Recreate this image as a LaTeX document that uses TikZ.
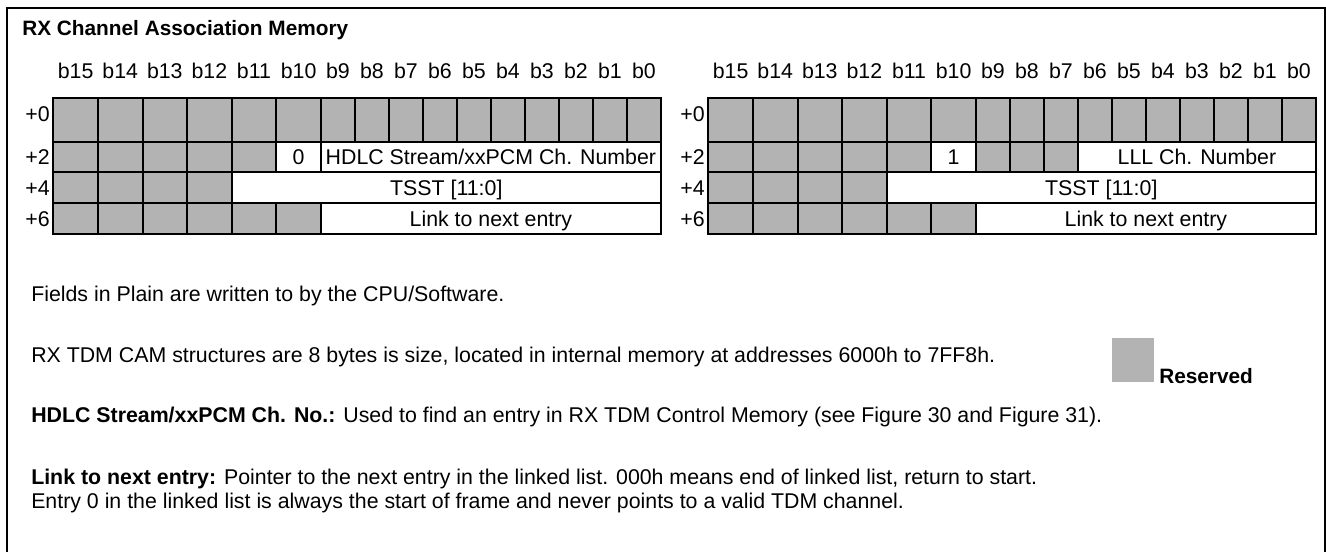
\documentclass[tikz,border=0pt]{standalone}
\usepackage{fontspec}
\setmainfont{Liberation Sans}
\usetikzlibrary{calc}
\definecolor{resgray}{RGB}{179,179,179}
\newcommand\fsz{\fontsize{16pt}{19.2pt}\selectfont}
\newcommand\fst{\fontsize{15.6pt}{18.7pt}\selectfont}
\begin{document}
\begin{tikzpicture}[x=0.75pt,y=-0.75pt,
  cell/.style={draw=black,line width=1.5pt},
  res/.style={cell,fill=resgray},
  txt/.style={inner sep=0pt,font=\fsz,anchor=base},
  lbl/.style={inner sep=0pt,font=\fsz,anchor=base west},
  rowlbl/.style={inner sep=0pt,font=\fsz,anchor=base east},
  bold/.style={inner sep=0pt,font=\fst\bfseries,anchor=base west}]
\useasboundingbox (0,0) rectangle (1326,551);
\fill[white] (0,0) rectangle (1326,551);
\draw[line width=1.5pt] (7,570) -- (7,8) -- (1325,8) -- (1325,570);
\node[bold] (title) at (22,35) {RX Channel Association Memory};
% column boundaries
\foreach \t/\dx in {L/0,R/655}{
  \foreach \i/\x in {0/53.3,1/97.9,2/142.5,3/187.1,4/231.7,5/276.3,6/320.9,7/354.9,8/388.9,9/422.9,10/456.9,11/490.9,12/524.9,13/558.9,14/592.9,15/626.9,16/660.9}{
    \coordinate (\t c\i) at (\x+\dx,0);
  }
}
\foreach \j/\y in {0/98.3,1/141.5,2/172,3/203.3,4/234.3} \coordinate (r\j) at (0,\y);
% header labels
\foreach \t in {L,R}{
  \foreach \i in {0,...,15}{
    \pgfmathtruncatemacro\ii{\i+1}
    \pgfmathtruncatemacro\bb{15-\i}
    \node[txt] (\t h\i) at ($(\t c\i)!.5!(\t c\ii)+(0,78)$) {b\bb};
  }
}
% reserved cells
\foreach \t/\j/\a/\b in {L/0/0/15, L/1/0/4, L/2/0/3, L/3/0/5, R/0/0/15, R/1/0/4, R/1/6/8, R/2/0/3, R/3/0/5}{
  \foreach \i in {\a,...,\b}{
    \pgfmathtruncatemacro\ii{\i+1}
    \pgfmathtruncatemacro\jj{\j+1}
    \draw[res] (\t c\i |- r\j) rectangle (\t c\ii |- r\jj);
  }
}
% left fields
\draw[cell] (Lc5|-r1) rectangle (Lc6|-r2);
\node[txt] (lzero) at ($(Lc5)!.5!(Lc6)+(0,164)$) {0};
\draw[cell] (Lc6|-r1) rectangle (Lc16|-r2);
\node[txt] (lhdlc) at ($(Lc6)!.5!(Lc16)+(0,164)$) {HDLC Stream/xxPCM Ch. Number};
\draw[cell] (Lc4|-r2) rectangle (Lc16|-r3);
\node[txt] (ltsst) at ($(Lc4)!.5!(Lc16)+(0,195)$) {TSST [11:0]};
\draw[cell] (Lc6|-r3) rectangle (Lc16|-r4);
\node[txt] (llink) at ($(Lc6)!.5!(Lc16)+(0,226)$) {Link to next entry};
% right fields
\draw[cell] (Rc5|-r1) rectangle (Rc6|-r2);
\node[txt] (rone) at ($(Rc5)!.5!(Rc6)+(0,164)$) {1};
\draw[cell] (Rc9|-r1) rectangle (Rc16|-r2);
\node[txt] (rlll) at ($(Rc9)!.5!(Rc16)+(0,164)$) {LLL Ch. Number};
\draw[cell] (Rc4|-r2) rectangle (Rc16|-r3);
\node[txt] (rtsst) at ($(Rc4)!.5!(Rc16)+(0,195)$) {TSST [11:0]};
\draw[cell] (Rc6|-r3) rectangle (Rc16|-r4);
\node[txt] (rlink) at ($(Rc6)!.5!(Rc16)+(0,226)$) {Link to next entry};
% row labels
\foreach \t/\x in {L/50,R/705}{
  \foreach \j/\y/\s in {0/121/+0,1/164/+2,2/195/+4,3/226/+6}{
    \node[rowlbl] (\t r\j) at (\x,\y) {\s};
  }
}
% notes
\node[lbl] (note1) at (31,301) {Fields in Plain are written to by the CPU/Software.};
\node[lbl] (note2) at (31,362) {RX TDM CAM structures are 8 bytes is size, located in internal memory at addresses 6000h to 7FF8h.};
\node[lbl] (note3) at (31,422) {\textbf{HDLC Stream/xxPCM Ch. No.:} Used to find an entry in RX TDM Control Memory (see Figure 30 and Figure 31).};
\node[lbl] (note4) at (31,484) {\textbf{Link to next entry:} Pointer to the next entry in the linked list. 000h means end of linked list, return to start.};
\node[lbl] (note5) at (31,508) {Entry 0 in the linked list is always the start of frame and never points to a valid TDM channel.};
% legend
\node[fill=resgray,inner sep=0pt,minimum width=31.5pt,minimum height=33pt] (legbox) at (1133,360) {};
\node[bold] (legtxt) at (1159,383) {Reserved};
\end{tikzpicture}
\end{document}
